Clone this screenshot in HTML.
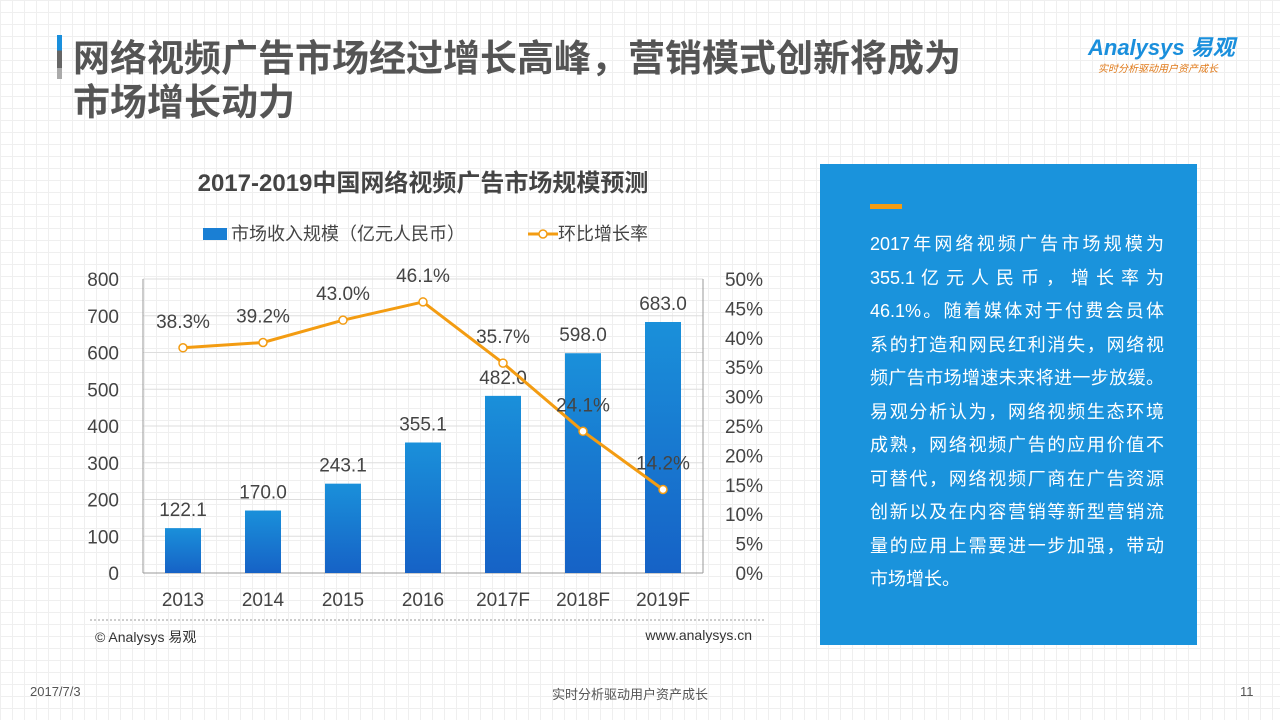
<!DOCTYPE html>
<html><head><meta charset="utf-8"><style>
body{margin:0;width:1280px;height:720px;overflow:hidden;font-family:"Liberation Sans","Noto Sans CJK SC",sans-serif;
background-color:#fff;background-image:linear-gradient(#efefef 1px,transparent 1px),linear-gradient(90deg,#efefef 1px,transparent 1px);background-size:12px 12px;position:relative}
.abs{position:absolute}
.pl{white-space:nowrap;text-align:justify;text-align-last:justify;height:33.5px}
.pl.last{text-align-last:left}
</style></head><body>
<div class="abs" style="left:57px;top:35px;width:5px;height:44px;background:linear-gradient(#1a8fdc 0 35%,#666 35% 75%,#aaa 75%)"></div>
<div class="abs" style="left:73px;top:33px;font-size:37px;font-weight:bold;color:#555;line-height:44px;font-family:'Noto Sans CJK SC',sans-serif">网络视频广告市场经过增长高峰，营销模式创新将成为<br>市场增长动力</div>
<div class="abs" style="left:1088px;top:30px;color:#1a8fdc;font-size:22px;font-weight:bold;font-style:italic">Analysys 易观</div>
<div class="abs" style="left:1098px;top:60px;color:#e07a1a;font-size:10px;font-style:italic">实时分析驱动用户资产成长</div>
<div class="abs" style="left:820px;top:164px;width:377px;height:481px;background:#1a93dc"></div>
<div class="abs" style="left:870px;top:204px;width:32px;height:5px;background:#f39c12"></div>
<div class="abs" style="left:870px;top:228px;width:294px;color:#fff;font-size:18px;line-height:33.5px">
<div class="pl">2017年网络视频广告市场规模为</div>
<div class="pl">355.1 亿 元 人 民 币 ， 增 长 率 为</div>
<div class="pl">46.1%。随着媒体对于付费会员体</div>
<div class="pl">系的打造和网民红利消失，网络视</div>
<div class="pl">频广告市场增速未来将进一步放缓。</div>
<div class="pl">易观分析认为，网络视频生态环境</div>
<div class="pl">成熟，网络视频广告的应用价值不</div>
<div class="pl">可替代，网络视频厂商在广告资源</div>
<div class="pl">创新以及在内容营销等新型营销流</div>
<div class="pl">量的应用上需要进一步加强，带动</div>
<div class="pl last">市场增长。</div>
</div>
<div class="abs" style="left:30px;top:684px;font-size:13px;color:#555">2017/7/3</div>
<div class="abs" style="left:552px;top:684px;font-size:13px;color:#555">实时分析驱动用户资产成长</div>
<div class="abs" style="left:1240px;top:684px;font-size:13px;color:#555">11</div>
<svg class="abs" style="left:0;top:0" width="1280" height="720" id="chart">
<text x="423" y="191" text-anchor="middle" font-size="24" font-weight="bold" fill="#444">2017-2019中国网络视频广告市场规模预测</text>
<rect x="203" y="228" width="24" height="12" fill="#1a7fd4"/>
<text x="231" y="240" font-size="18" fill="#444">市场收入规模（亿元人民币）</text>
<line x1="528" y1="234" x2="558" y2="234" stroke="#f39c12" stroke-width="3"/>
<circle cx="543" cy="234" r="4" fill="#fff" stroke="#f39c12" stroke-width="1.5"/>
<text x="558" y="240" font-size="18" fill="#444">环比增长率</text>
<line x1="90" y1="620" x2="765" y2="620" stroke="#999" stroke-dasharray="2,2"/>
<text x="95" y="642" font-size="14" fill="#333">© Analysys 易观</text>
<text x="752" y="640" font-size="14" fill="#333" text-anchor="end">www.analysys.cn</text>
<defs><linearGradient id="bg" x1="0" y1="0" x2="0" y2="1"><stop offset="0" stop-color="#1a90da"/><stop offset="1" stop-color="#1662c6"/></linearGradient></defs>
<g id="g"></g>
</svg>
<script>
const categories=["2013","2014","2015","2016","2017F","2018F","2019F"];
const revenue=[122.1,170.0,243.1,355.1,482.0,598.0,683.0];
const growth=[38.3,39.2,43.0,46.1,35.7,24.1,14.2];
const leftTicks=[0,100,200,300,400,500,600,700,800];
const rightTicks=[0,5,10,15,20,25,30,35,40,45,50];
const NS="http://www.w3.org/2000/svg";
const g=document.getElementById('g');
const x0=143,x1=703,yTop=279,yBot=573;
const yL=v=>yBot-v/800*(yBot-yTop);
const yR=v=>yBot-v/50*(yBot-yTop);
const xC=i=>x0+(i+0.5)*(x1-x0)/categories.length;
function mk(t,a){const e=document.createElementNS(NS,t);for(const k in a)e.setAttribute(k,a[k]);g.appendChild(e);return e;}
leftTicks.forEach(v=>{
 const l=mk('line',{x1:x0,x2:x1,y1:yL(v),y2:yL(v),stroke:v===0?'#999':'#ddd'});
 
 
 const t=mk('text',{x:119,y:yL(v)+7,'text-anchor':'end','font-size':19,fill:'#444'});t.textContent=v;
 
 
});
rightTicks.forEach(v=>{
 const t=mk('text',{x:763,y:yR(v)+7,'text-anchor':'end','font-size':19,fill:'#444'});t.textContent=v+'%';
 
 
});
const ax=mk('line',{x1:x0,x2:x0,y1:yTop,y2:yBot,stroke:'#999'});


const ax2=mk('line',{x1:x1,x2:x1,y1:yTop,y2:yBot,stroke:'#999'});


categories.forEach((c,i)=>{
 const r=mk('rect',{x:xC(i)-18,y:yL(revenue[i]),width:36,height:yBot-yL(revenue[i]),fill:'url(#bg)'});
 
 
 const t=mk('text',{x:xC(i),y:yL(revenue[i])-12,'text-anchor':'middle','font-size':19,fill:'#444'});t.textContent=revenue[i].toFixed(1);
 
 
 const xt=mk('text',{x:xC(i),y:606,'text-anchor':'middle','font-size':19,fill:'#444'});xt.textContent=c;
 
 
});
const pl=mk('polyline',{points:growth.map((v,i)=>xC(i)+','+yR(v)).join(' '),fill:'none',stroke:'#f39c12','stroke-width':3});


growth.forEach((v,i)=>{
 const c=mk('circle',{cx:xC(i),cy:yR(v),r:4,fill:'#fff',stroke:'#f39c12','stroke-width':1.5});
 
 
 const t=mk('text',{x:xC(i),y:yR(v)-20,'text-anchor':'middle','font-size':19,fill:'#444'});t.textContent=v.toFixed(1)+'%';
 
 
});
</script>
</body></html>
